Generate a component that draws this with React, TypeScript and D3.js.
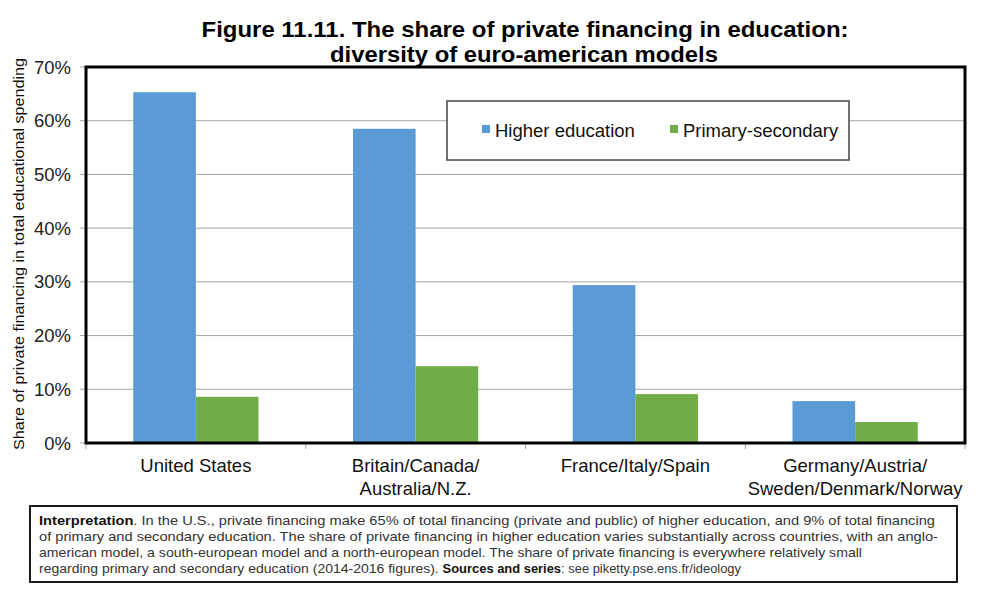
import React, { useEffect, useRef } from 'react';
import * as d3 from 'd3';

const categories = [
  ['United States'],
  ['Britain/Canada/', 'Australia/N.Z.'],
  ['France/Italy/Spain'],
  ['Germany/Austria/', 'Sweden/Denmark/Norway'],
];
const seriesNames = ['Higher education', 'Primary-secondary'];
const higherEducation = [65.3, 58.5, 29.4, 7.8];
const primarySecondary = [8.6, 14.3, 9.1, 3.9];
const yTicks = [0, 10, 20, 30, 40, 50, 60, 70];

const noteLines = [
  { bold: 'Interpretation', rest: '. In the U.S., private financing make 65% of total financing (private and public) of higher education, and 9% of total financing', width: 896 },
  { bold: '', rest: 'of primary and secondary education. The share of private financing in higher education varies substantially across countries, with an anglo-', width: 899 },
  { bold: '', rest: 'american model, a south-european model and a north-european model. The share of private financing is everywhere relatively small', width: 823 },
];

const colors = ['#5b9bd5', '#70ad47'];
const font = "'Liberation Sans', Arial, sans-serif";

const App: React.FC = () => {
  const svgRef = useRef<SVGSVGElement>(null);

  useEffect(() => {
    if (!svgRef.current) return;
    const svg = d3.select(svgRef.current);
    svg.selectAll('*').remove();

    const width = 987;
    const height = 614;
    const margin = { top: 67, right: 22, bottom: 171, left: 86 };
    const innerWidth = width - margin.left - margin.right;
    const innerHeight = height - margin.top - margin.bottom;

    svg.attr('width', width).attr('height', height).style('font-family', font);

    // Title
    const title = svg.append('text')
      .attr('text-anchor', 'middle')
      .style('font-weight', 'bold')
      .style('font-size', '22px')
      .attr('fill', '#000');
    title.append('tspan').attr('x', 525).attr('y', 37)
      .attr('textLength', 647).attr('lengthAdjust', 'spacingAndGlyphs')
      .text('Figure 11.11. The share of private financing in education:');
    title.append('tspan').attr('x', 524).attr('y', 62)
      .attr('textLength', 388).attr('lengthAdjust', 'spacingAndGlyphs')
      .text('diversity of euro-american models');

    const g = svg.append('g').attr('transform', `translate(${margin.left},${margin.top})`);

    const x0 = d3.scaleBand<number>()
      .domain(d3.range(categories.length))
      .range([0, innerWidth])
      .paddingInner(0.43)
      .paddingOuter(0.215);
    const x1 = d3.scaleBand<number>()
      .domain([0, 1])
      .range([0, x0.bandwidth()]);
    const y = d3.scaleLinear().domain([0, 70]).range([innerHeight, 0]);

    // Gridlines
    g.selectAll('.grid')
      .data(yTicks.filter(t => t > 0 && t < 70))
      .enter().append('line')
      .attr('x1', 0).attr('x2', innerWidth)
      .attr('y1', d => y(d)).attr('y2', d => y(d))
      .attr('stroke', '#a6a6a6').attr('stroke-width', 1);

    // Left ticks and labels
    g.selectAll('.ytick')
      .data(yTicks)
      .enter().append('line')
      .attr('x1', -6).attr('x2', 0)
      .attr('y1', d => y(d)).attr('y2', d => y(d))
      .attr('stroke', '#a6a6a6');
    g.selectAll('.ylabel')
      .data(yTicks)
      .enter().append('text')
      .attr('x', -15).attr('y', d => y(d) + 6.5)
      .attr('text-anchor', 'end')
      .style('font-size', '18.5px')
      .attr('fill', '#222')
      .text(d => `${d}%`);

    // Bottom ticks at category boundaries
    const step = x0.step();
    g.selectAll('.xtick')
      .data(d3.range(categories.length + 1))
      .enter().append('line')
      .attr('x1', d => d * step).attr('x2', d => d * step)
      .attr('y1', innerHeight).attr('y2', innerHeight + 6)
      .attr('stroke', '#a6a6a6');

    // Bars
    const series = [higherEducation, primarySecondary];
    series.forEach((values, si) => {
      g.selectAll(`.bar-${si}`)
        .data(values)
        .enter().append('rect')
        .attr('x', (_, i) => (x0(i) || 0) + (x1(si) || 0))
        .attr('y', d => y(d))
        .attr('width', x1.bandwidth())
        .attr('height', d => innerHeight - y(d))
        .attr('fill', colors[si]);
    });

    // Plot frame
    g.append('rect')
      .attr('x', 0).attr('y', 0)
      .attr('width', innerWidth).attr('height', innerHeight)
      .attr('fill', 'none')
      .attr('stroke', '#000').attr('stroke-width', 3);

    // Category labels
    categories.forEach((lines, i) => {
      const cx = (x0(i) || 0) + x0.bandwidth() / 2;
      lines.forEach((line, li) => {
        g.append('text')
          .attr('x', cx)
          .attr('y', innerHeight + 29 + li * 23)
          .attr('text-anchor', 'middle')
          .style('font-size', '18.5px')
          .attr('fill', '#111')
          .text(line);
      });
    });

    // Legend
    const legend = svg.append('g').attr('transform', 'translate(447,101)');
    legend.append('rect')
      .attr('width', 402).attr('height', 59)
      .attr('fill', '#fff')
      .attr('stroke', '#444').attr('stroke-width', 1.5);
    const legendX = [35, 223];
    seriesNames.forEach((name, i) => {
      legend.append('rect')
        .attr('x', legendX[i]).attr('y', 24)
        .attr('width', 8).attr('height', 8)
        .attr('fill', colors[i]);
      legend.append('text')
        .attr('x', legendX[i] + 13).attr('y', 35.5)
        .style('font-size', '18.5px')
        .attr('fill', '#111')
        .text(name);
    });

    // Y axis title
    svg.append('text')
      .attr('transform', 'translate(24,254) rotate(-90)')
      .attr('text-anchor', 'middle')
      .style('font-size', '15px')
      .attr('fill', '#111')
      .attr('textLength', 392).attr('lengthAdjust', 'spacingAndGlyphs')
      .text('Share of private financing in total educational spending');

    // Interpretation box
    svg.append('rect')
      .attr('x', 30).attr('y', 506)
      .attr('width', 927).attr('height', 76)
      .attr('fill', '#fff')
      .attr('stroke', '#000').attr('stroke-width', 1.8);

    noteLines.forEach((line, i) => {
      const t = svg.append('text')
        .attr('x', 39).attr('y', 525 + i * 16)
        .style('font-size', '13px')
        .attr('fill', '#333')
        .attr('textLength', line.width).attr('lengthAdjust', 'spacingAndGlyphs');
      if (line.bold) t.append('tspan').style('font-weight', 'bold').attr('fill', '#111').text(line.bold);
      t.append('tspan').text(line.rest);
    });

    const last = svg.append('text')
      .attr('x', 39).attr('y', 573)
      .style('font-size', '13px')
      .attr('fill', '#333')
      .attr('textLength', 702).attr('lengthAdjust', 'spacingAndGlyphs');
    last.append('tspan').text('regarding primary and secondary education (2014-2016 figures). ');
    last.append('tspan').style('font-weight', 'bold').attr('fill', '#111').style('font-size', '12px').text('Sources and series');
    last.append('tspan').style('font-size', '12px').text(': see piketty.pse.ens.fr/ideology');
  }, []);

  return <svg ref={svgRef} style={{ position: 'absolute', left: 0, top: 0 }} />;
};

export default App;
